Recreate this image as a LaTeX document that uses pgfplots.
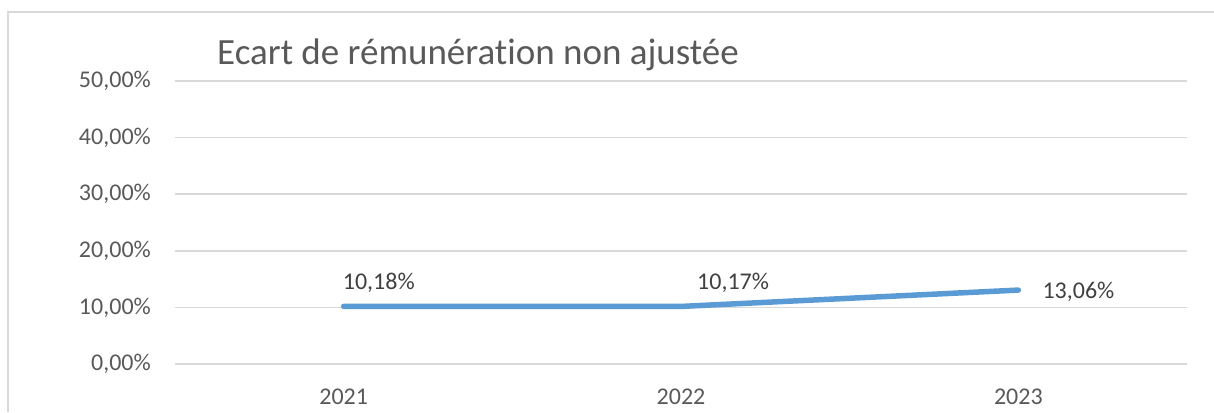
\documentclass[border=0pt]{standalone}
\usepackage{pgfplots}
\pgfplotsset{compat=1.18}
\usepackage{fontspec}
\setmainfont{Carlito}[Ligatures={NoCommon}]
\definecolor{gridc}{HTML}{D9D9D9}
\definecolor{txt}{HTML}{595959}
\definecolor{lbl}{HTML}{404040}
\definecolor{lineblue}{HTML}{5B9BD5}
\definecolor{framec}{HTML}{D9D9D9}
\begin{document}
\begin{tikzpicture}[x=1pt,y=1pt]
\useasboundingbox (0,0) rectangle (1214,412);
\draw[color=framec, line width=1.5pt] (8,0) -- (8,400) -- (1214,400);
\node[anchor=base west, inner sep=0pt, text=txt, font=\fontsize{37}{44}\selectfont] at (217,347) {Ecart de rémunération non ajustée};
\begin{axis}[
  at={(175pt,48pt)}, anchor=south west,
  scale only axis, width=1012pt, height=283pt,
  xmin=-0.5, xmax=2.5, ymin=0, ymax=50,
  axis line style={draw=none},
  major tick length=0pt,
  ytick={0,10,20,30,40,50},
  yticklabels={{0,00\%},{10,00\%},{20,00\%},{30,00\%},{40,00\%},{50,00\%}},
  xtick={0,1,2},
  xticklabels={2021,2022,2023},
  ymajorgrids,
  grid style={color=gridc, line width=1.5pt},
  yticklabel style={anchor=east, inner sep=0pt, xshift=-24pt, text=txt, font=\fontsize{24}{28}\selectfont},
  xticklabel style={anchor=north, inner sep=0pt, yshift=-25pt, text=txt, font=\fontsize{24}{28}\selectfont},
  clip=false,
]
\addplot[color=lineblue, line width=5.5pt, line cap=round, line join=round] coordinates {(0,10.18) (1,10.17) (2,13.06)};
\node[anchor=base west, inner sep=0pt, text=lbl, font=\fontsize{24}{28}\selectfont] at (axis cs:0,10.18) [xshift=-1pt, yshift=16.5pt] {10,18\%};
\node[anchor=base west, inner sep=0pt, text=lbl, font=\fontsize{24}{28}\selectfont] at (axis cs:1,10.17) [xshift=16pt, yshift=16.5pt] {10,17\%};
\node[anchor=base west, inner sep=0pt, text=lbl, font=\fontsize{24}{28}\selectfont] at (axis cs:2,13.06) [xshift=24pt, yshift=-8.5pt] {13,06\%};
\end{axis}
\end{tikzpicture}
\end{document}
